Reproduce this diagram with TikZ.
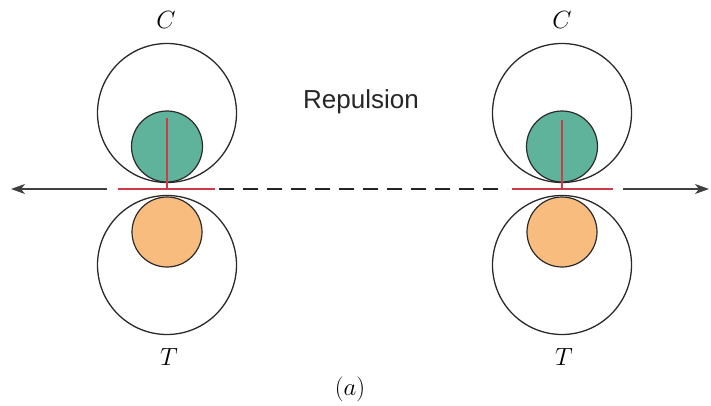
\documentclass[tikz,border=0pt]{standalone}
\usepackage{fontspec}
\newfontfamily\labelsans{Liberation Sans}
\usetikzlibrary{arrows.meta}
\definecolor{tealfill}{HTML}{5FB39B}
\definecolor{orangefill}{HTML}{F8BD7E}
\definecolor{redline}{HTML}{CC3A4C}
\definecolor{outline}{HTML}{2A2A2A}
\begin{document}
\begin{tikzpicture}[x=1pt,y=-1pt,
  bigcirc/.style={circle,draw=outline,line width=1.3pt,inner sep=0pt,minimum size=139pt},
  tealcirc/.style={circle,draw=outline,line width=1.2pt,fill=tealfill,inner sep=0pt,minimum size=71pt},
  orangecirc/.style={circle,draw=outline,line width=1.2pt,fill=orangefill,inner sep=0pt,minimum size=70pt},
  redseg/.style={draw=redline,line width=1.5pt},
  axisarrow/.style={draw=black!75,line width=1.3pt,-{Stealth[length=14pt,width=10pt,inset=4pt]}},
  dashedaxis/.style={draw=black!85,line width=1.5pt,dash pattern=on 15pt off 9pt},
  lettertext/.style={font=\fontsize{28}{30}\selectfont,inner sep=0pt}]
\useasboundingbox (0,0) rectangle (711,406);
% left group
\node[bigcirc] (CLu) at (167,113) {};
\node[tealcirc] (GL) at (167,146.5) {};
\node[orangecirc] (OL) at (167,232) {};
\node[bigcirc] (CLd) at (167,265) {};
\coordinate (LredL) at (118,189);
\coordinate (LredR) at (215,189);
\coordinate (LredM) at (167,189);
\coordinate (LredTop) at (167,118);
% right group
\node[bigcirc] (CRu) at (562,113) {};
\node[tealcirc] (GR) at (562,146.5) {};
\node[orangecirc] (OR) at (562,232) {};
\node[bigcirc] (CRd) at (562,265) {};
\coordinate (RredL) at (512,189);
\coordinate (RredR) at (613,189);
\coordinate (RredM) at (562,189);
\coordinate (RredTop) at (562,120);
% red lines
\draw[redseg] (LredL) -- (LredR);
\draw[redseg] (LredM) -- (LredTop);
\draw[redseg] (RredL) -- (RredR);
\draw[redseg] (RredM) -- (RredTop);
% axis
\coordinate (dashA) at (219,189);
\coordinate (dashB) at (507,189);
\draw[dashedaxis] (dashA) -- (dashB);
\coordinate (arrLs) at (107,189);
\coordinate (arrLe) at (11,189);
\coordinate (arrRs) at (623,189);
\coordinate (arrRe) at (709,189);
\draw[axisarrow] (arrLs) -- (arrLe);
\draw[axisarrow] (arrRs) -- (arrRe);
% labels
\node[lettertext] (labCL) at (166,20) {$C$};
\node[lettertext] (labTL) at (169,357) {$T$};
\node[lettertext] (labCR) at (562,20) {$C$};
\node[lettertext] (labTR) at (564,357) {$T$};
\node[inner sep=0pt,font=\labelsans\fontsize{26}{30}\selectfont,text=black!85] (rep) at (361,102) {Repulsion};
\node[lettertext,font=\fontsize{25}{28}\selectfont] (cap) at (350,389) {$(a)$};
\end{tikzpicture}
\end{document}
